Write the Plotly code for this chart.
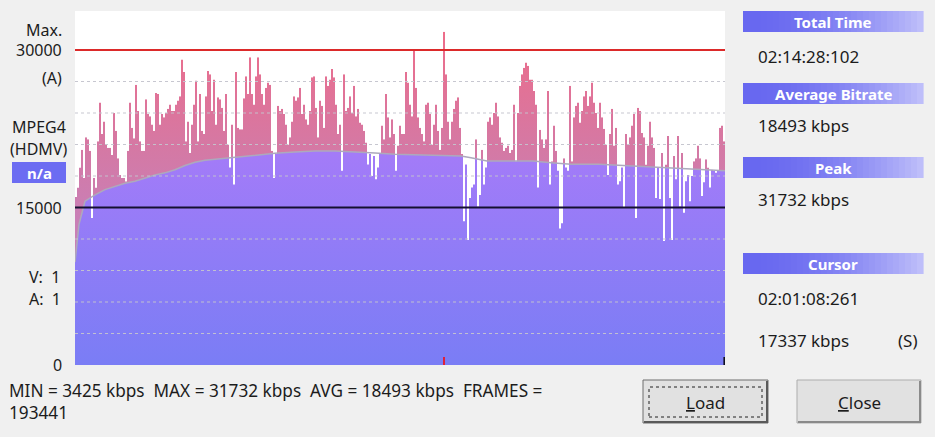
import plotly.graph_objects as go

# ---------------- data ----------------
bitrate_part1 = [16000, 16900, 18800, 20500, 17800, 21700, 21500, 20400, 14000, 17800,
                 16900, 21300, 25000, 22000, 23200, 21000, 20700, 20700, 20000, 24000,
                 22300, 19700, 18100, 17800, 17800, 17500, 20400, 25000, 22600, 21600,
                 26700, 24200, 21300, 20400, 20400, 25300, 23900, 23700, 22900, 22300,
                 25900, 25800, 22900, 23900, 23600, 24000, 24400, 24800, 24200, 24200,
                 24800, 25200, 25600, 29100, 27900, 21300, 23200, 20200, 22900, 24800,
                 27100, 21300, 25800, 22300, 22000, 25600, 28000, 27700, 24200, 27200,
                 22900, 25500, 25300, 24500, 22300, 25800, 21000, 18800, 22900, 17200,
                 27900, 22600]
bitrate_part2 = [22450, 22450, 25400, 27500, 25800, 29300, 25800, 24800, 27500, 29300,
                 27700, 25800, 24800, 26400, 26900, 26700, 20400, 17800, 20100, 24700,
                 24200, 24400, 23900, 22900, 21000, 21700, 23200, 25600, 25200, 25500,
                 26400, 23900, 24800, 23400, 22900, 24200, 27400, 27500, 24500, 21700,
                 25200, 24700, 22600, 27500, 26600, 27200, 28200, 27400, 24800, 22000,
                 22900, 18500, 27700, 24200, 24500, 25600, 24000, 26600, 23700, 24400,
                 23100, 22900, 22300, 21200, 19100, 20100, 18000, 19900, 17700, 18800,
                 20100, 22800, 21500, 25800, 23600, 21700, 23400, 22000, 18500, 20900,
                 22800, 22000]
bitrate_part3 = [22000, 27900, 26900, 24800, 23700, 29900, 26400, 23600, 22600, 22000,
                 21300, 24800, 25000, 23900, 21000, 22900, 24800, 22300, 20500, 22600,
                 31732, 27700, 23200, 21500, 23200, 24400, 25200, 25500, 22600, 20100,
                 13700, 19100, 11900, 15900, 16900, 17200, 21500, 15100, 16200, 20500,
                 17200, 18800, 23200, 23600, 22900, 24000, 25000, 23700, 21700, 21200,
                 20400, 20700, 20900, 20200, 20500, 24800, 19400, 24000, 26600, 27700,
                 28300, 28800, 28500, 27200, 27200, 26100, 24800, 16900, 22400, 21500,
                 20700, 21500, 26100, 17200, 19400, 22800, 20400, 18500, 13000, 13500,
                 19700, 18800]
bitrate_part4 = [18500, 26600, 19400, 23600, 24700, 25000, 23100, 24200, 25600, 26100,
                 24700, 25600, 26900, 25000, 24000, 22600, 25000, 23600, 22500, 21000,
                 18100, 22000, 24400, 20900, 22600, 17200, 17500, 18800, 15000, 22000,
                 21000, 21700, 22800, 23900, 14000, 24500, 24200, 22100, 21700, 19100,
                 20900, 23200, 21700, 20700, 15900, 18800, 15800, 20200, 11800, 19100,
                 21800, 15900, 11900, 19900, 17700, 21800, 15100, 20200, 14500, 17500,
                 18100, 15600, 18000, 19400, 19700, 20900, 19700, 16100, 17400, 19600,
                 18800, 16900, 18600, 18500, 18300, 18500, 22600, 22800, 21300]

# running average (gray line), sampled at bar positions
avg_pos = [0, 2, 5, 10, 15, 20, 25, 30, 35, 40, 45, 50, 55, 60, 65, 70, 75, 80, 90, 100,
           110, 120, 130, 140, 150, 160, 170, 178, 186, 193, 198, 206, 218, 229, 238, 248,
           262, 278, 295, 312, 325]
avg_val = [9800, 13400, 15600, 16200, 16700, 17000, 17300, 17500, 17800, 18100, 18300,
           18600, 19000, 19300, 19500, 19600, 19650, 19740, 19960, 20160, 20290, 20380,
           20380, 20320, 20190, 20060, 20030, 20000, 19950, 19900, 19740, 19430, 19430,
           19430, 19270, 19110, 19110, 18950, 18790, 18600, 18493]

max_line = 30000
ref_line = 15000
grid_values = [3000, 6000, 9000, 12000, 18000, 21000, 24000, 27000]

left_labels = ["Max.", "30000", "(A)", "15000", "0"]
codec_labels = ["MPEG4", "(HDMV)", "n/a"]
stream_labels = ["V:  1", "A:  1"]
panel_headers = ["Total Time", "Average Bitrate", "Peak", "Cursor"]
panel_values = ["02:14:28:102", "18493 kbps", "31732 kbps", "02:01:08:261", "17337 kbps"]
stats_line1 = "MIN = 3425 kbps  MAX = 31732 kbps  AVG = 18493 kbps  FRAMES ="
stats_line2 = "193441"

# ---------------- geometry helpers ----------------
W, H = 935, 437
L, R, T, B = 75, 725, 11, 365
YMAX = 33714


def px(x):
    return (x - L) / (R - L)


def py(y):
    return (B - y) / (B - T)


bitrate = bitrate_part1 + bitrate_part2 + bitrate_part3 + bitrate_part4
n = len(bitrate)
x_edges = list(range(n + 1))
y_step = bitrate + [bitrate[-1]]
peak_idx = bitrate.index(max(bitrate))

fig = go.Figure()

# pink: full bitrate
fig.add_trace(go.Scatter(
    x=x_edges, y=y_step, mode="lines", line=dict(width=0, shape="hv"),
    fill="tozeroy",
    fillgradient=dict(type="vertical", start=14000, stop=32000,
                      colorscale=[[0, "#c97fb6"], [0.35, "#d479a5"],
                                  [0.7, "#e27296"], [1, "#ee6c88"]]),
    hoverinfo="skip", showlegend=False))
# purple: area under running average
fig.add_trace(go.Scatter(
    x=avg_pos, y=avg_val, mode="lines", line=dict(width=0),
    fill="tozeroy",
    fillgradient=dict(type="vertical", start=0, stop=20500,
                      colorscale=[[0, "#7a7df5"], [1, "#a47bf8"]]),
    hoverinfo="skip", showlegend=False))
# white above each bar (dips below average)
fig.add_trace(go.Scatter(
    x=x_edges, y=[YMAX + 1000] * (n + 1), mode="lines", line=dict(width=0),
    hoverinfo="skip", showlegend=False))
fig.add_trace(go.Scatter(
    x=x_edges, y=y_step, mode="lines", line=dict(width=0, shape="hv"),
    fill="tonexty", fillcolor="white", hoverinfo="skip", showlegend=False))
# running average line
fig.add_trace(go.Scatter(
    x=avg_pos, y=avg_val, mode="lines", line=dict(width=1.5, color="#ada9bd"),
    hoverinfo="skip", showlegend=False))

shapes = []
for g in grid_values:
    shapes.append(dict(type="line", xref="paper", yref="y", x0=0, x1=1, y0=g, y1=g,
                       line=dict(color="rgba(196,196,206,0.95)", width=1, dash="dot"),
                       layer="above"))
shapes.append(dict(type="line", xref="paper", yref="y", x0=0, x1=1, y0=max_line, y1=max_line,
                   line=dict(color="#dc2a2a", width=2), layer="above"))
shapes.append(dict(type="line", xref="paper", yref="y", x0=0, x1=1, y0=ref_line, y1=ref_line,
                   line=dict(color="#141030", width=2), layer="above"))
# peak marker and end marker at the bottom
shapes.append(dict(type="line", xref="x", yref="y", x0=peak_idx + 0.5, x1=peak_idx + 0.5,
                   y0=0, y1=750, line=dict(color="#e0203a", width=2), layer="above"))
shapes.append(dict(type="line", xref="x", yref="y", x0=n - 0.3, x1=n - 0.3,
                   y0=0, y1=750, line=dict(color="#101020", width=2), layer="above"))

# n/a box
shapes.append(dict(type="rect", xref="paper", yref="paper", x0=px(12), x1=px(66),
                   y0=py(183), y1=py(162), fillcolor="#6c6cf2", line=dict(width=0)))


# gradient header bars on the right
def header_bar(y0, y1, x0=743, x1=923, steps=30):
    c0 = (104, 104, 240)
    c1 = (190, 190, 250)
    w = (x1 - x0) / steps
    for i in range(steps):
        t = i / (steps - 1)
        t = t ** 1.8
        c = tuple(int(c0[k] + (c1[k] - c0[k]) * t) for k in range(3))
        shapes.append(dict(type="rect", xref="paper", yref="paper",
                           x0=px(x0 + i * w), x1=px(x0 + (i + 1) * w + 0.6),
                           y0=py(y1), y1=py(y0),
                           fillcolor="rgb(%d,%d,%d)" % c, line=dict(width=0)))


header_y = [(11, 32), (83, 104), (157, 178), (253, 274)]
for (a, b) in header_y:
    header_bar(a, b)


# buttons
def button(x0, x1, y0, y1, focused):
    shapes.append(dict(type="rect", xref="paper", yref="paper", x0=px(x0), x1=px(x1),
                       y0=py(y1), y1=py(y0), fillcolor="#e1e1e1",
                       line=dict(color="#6e6e6e" if focused else "#adadad", width=1)))
    shapes.append(dict(type="line", xref="paper", yref="paper", x0=px(x0 + 1), x1=px(x1),
                       y0=py(y1 - 1), y1=py(y1 - 1),
                       line=dict(color="#5a5a5a" if focused else "#8a8a8a", width=2)))
    shapes.append(dict(type="line", xref="paper", yref="paper", x0=px(x1 - 1), x1=px(x1 - 1),
                       y0=py(y0 + 1), y1=py(y1),
                       line=dict(color="#5a5a5a" if focused else "#8a8a8a", width=2)))
    if focused:
        shapes.append(dict(type="rect", xref="paper", yref="paper", x0=px(x0 + 6), x1=px(x1 - 6),
                           y0=py(y1 - 6), y1=py(y0 + 7), fillcolor="rgba(0,0,0,0)",
                           line=dict(color="#202020", width=1, dash="dot")))


button(643, 768, 380, 423, True)
button(797, 921, 380, 423, False)

FONT = "Noto Sans"
TXT = "#1c1c1c"
ann = []


def text(s, x, y, anchor="left", size=17, color=TXT, bold=False):
    ann.append(dict(text=("<b>%s</b>" % s) if bold else s, xref="paper", yref="paper",
                    x=px(x), y=py(y), xanchor=anchor, yanchor="middle", showarrow=False,
                    align="left", font=dict(family=FONT, size=size, color=color)))


# left labels
left_y = [30, 50, 78, 208, 365]
for s, yy in zip(left_labels, left_y):
    text(s, 64, yy, "right", size=16)
for s, yy in zip(codec_labels[:2], [127, 149]):
    text(s, 38.5, yy, "center", size=16)
text(codec_labels[2], 39, 172.5, "center", size=15, color="white", bold=True)
for s, yy in zip(stream_labels, [277, 299]):
    text(s, 27, yy, "left", size=16)

# right panel
for s, (a, b) in zip(panel_headers, header_y):
    text(s, 833, (a + b) / 2 + 0.5, "center", size=15, color="white", bold=True)
for s, yy in zip(panel_values, [56, 126, 199, 298, 340]):
    text(s, 756, yy, "left")
text("(S)", 920, 340, "right")

# stats (two lines in one text block)
text(stats_line1 + "<br>" + stats_line2, 7, 401, "left", size=17.2)

# button labels
text("<u>L</u>oad", 705.5, 402, "center")
text("<u>C</u>lose", 859, 402, "center")

fig.update_layout(
    width=W, height=H,
    margin=dict(l=L, r=W - R, t=T, b=H - B, pad=0),
    paper_bgcolor="#f0f0f0", plot_bgcolor="white",
    xaxis=dict(range=[0, n], visible=False, fixedrange=True),
    yaxis=dict(range=[0, YMAX], visible=False, fixedrange=True),
    shapes=shapes, annotations=ann, showlegend=False,
)

fig.write_html("out.html", config={"displayModeBar": False},
               post_script="document.body.style.margin='0';document.body.style.background='#f0f0f0';")
